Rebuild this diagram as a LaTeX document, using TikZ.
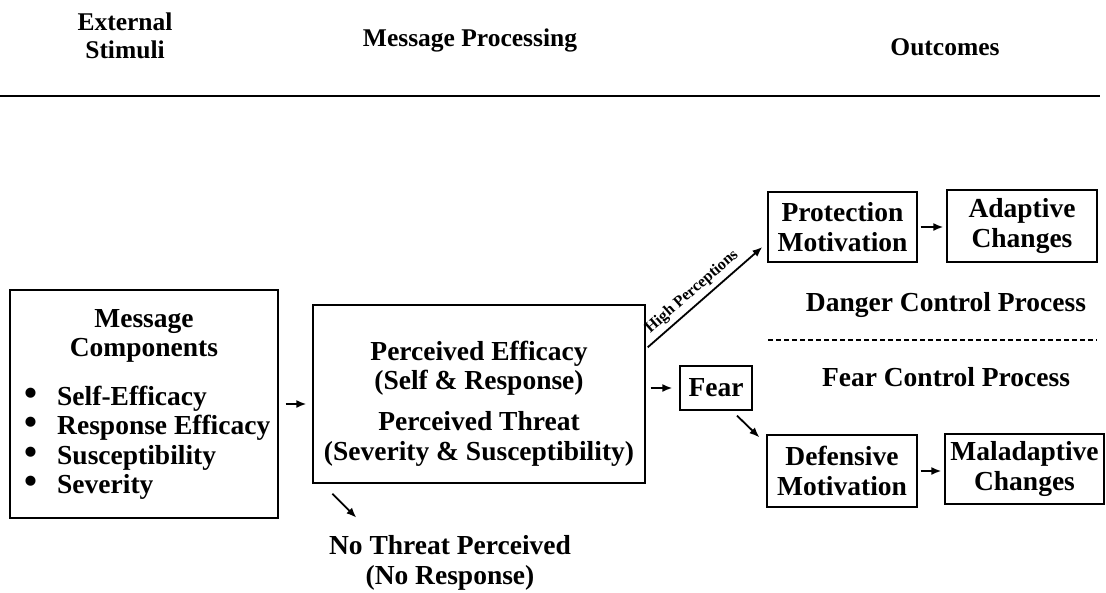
\documentclass[tikz,border=0pt]{standalone}
\usepackage{fontspec}
\setmainfont{Liberation Serif}
\usetikzlibrary{calc,positioning,arrows,arrows.meta}

\begin{document}
\begin{tikzpicture}[x=1pt,y=-1pt]
  \tikzstyle{bx}=[
    draw, rectangle,
    line width=1.3pt,
    inner sep=0pt
  ]
  \tikzstyle{txt}=[
    font=\fontsize{27.5}{29.5}\selectfont\bfseries,
    align=center, inner sep=0pt
  ]
  \tikzstyle{hd}=[txt,
    font=\fontsize{25.5}{28}\selectfont\bfseries
  ]
  \tikzstyle{arr}=[-{Latex[length=10pt,width=8pt]}, line width=1.8pt]
  \newcommand{\blt}{\makebox[35pt][l]{\hspace{2pt}\scalebox{1.35}{\textbullet}}}

  \useasboundingbox (0,0) rectangle (1106,592);

  % header
  \node[hd] (stimuli) at (125,36) {External\\Stimuli};
  \node[hd] (processing) at (470,40) {Message Processing};
  \node[hd] (outcomes) at (945,47) {Outcomes};
  \coordinate (rule left) at (0,96);
  \coordinate (rule right) at (1100,96);
  \draw[line width=2pt] (rule left) -- (rule right);

  % boxes
  \node[bx, minimum width=268, minimum height=228] (comp) at (144,404) {};
  \node[bx, minimum width=332, minimum height=178] (proc) at (479,394) {};
  \node[bx, minimum width=72, minimum height=44] (fear) at (716,388) {};
  \node[bx, minimum width=149, minimum height=70] (protect) at (842.5,227) {};
  \node[bx, minimum width=150, minimum height=72] (adapt) at (1022,226) {};
  \node[bx, minimum width=150, minimum height=72] (defens) at (842,471) {};
  \node[bx, minimum width=159, minimum height=70] (malad) at (1024.5,469) {};

  % texts
  \node[txt] (comp title) at (144,336) {Message\\Components};
  \node[txt, anchor=west, align=left] (comp list) at (22,443)
    {\blt Self-Efficacy\\
     \blt Response Efficacy\\
     \blt Susceptibility\\
     \blt Severity};
  \node[txt] (efficacy) at (479,368) {Perceived Efficacy\\(Self \& Response)};
  \node[txt] (threat) at (479,439) {Perceived Threat\\(Severity \& Susceptibility)};
  \node[txt] at (fear) {Fear};
  \node[txt] at (protect) {Protection\\Motivation};
  \node[txt] at (adapt) {Adaptive\\Changes};
  \node[txt] at (defens) {Defensive\\Motivation};
  \node[txt] at (malad) {Maladaptive\\Changes};
  \node[txt] (no threat) at (450,563) {No Threat Perceived\\(No Response)};
  \node[txt] (danger) at (946,305) {Danger Control Process};
  \node[txt] (fear ctrl) at (946,377) {Fear Control Process};

  % dashed divider
  \coordinate (div left) at (768,340);
  \coordinate (div right) at (1097,340);
  \draw[dash pattern=on 5pt off 3pt, line width=1.3pt] (div left) -- (div right);

  % connectors
  \draw[arr, shorten <=7pt, shorten >=6pt] (comp.east) -- (comp.east -| proc.west);
  \draw[arr, shorten <=5pt, shorten >=7pt] (proc.east |- fear.west) -- (fear.west);
  \draw[arr] ($(proc.north east)+(2,43)$) -- ($(protect.west)+(-5,20)$)
    node[pos=0.46, sloped, above=1pt, font=\fontsize{16}{17}\selectfont\bfseries] {High Perceptions};
  \draw[arr] ($(fear.south)+(21,5)$) -- ($(defens.north west)+(-7,3)$);
  \draw[arr, shorten <=3pt, shorten >=3pt] (protect.east) -- (protect.east -| adapt.west);
  \draw[arr, shorten <=3pt, shorten >=3pt] (defens.east) -- (defens.east -| malad.west);
  \draw[arr] ($(proc.south west)+(20,10)$) -- ($(proc.south west)+(44,34)$);

\end{tikzpicture}
\end{document}
